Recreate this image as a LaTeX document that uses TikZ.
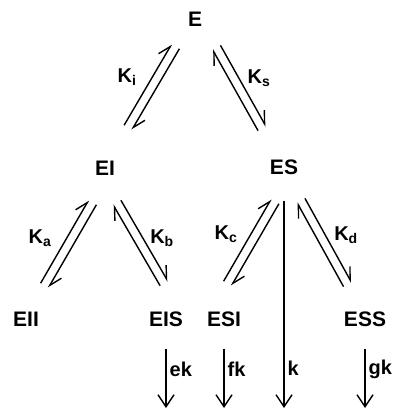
\documentclass[tikz,border=0pt]{standalone}
\usepackage{fontspec}
\setmainfont{Liberation Sans}
\usetikzlibrary{arrows.meta, calc}

% two parallel half-headed lines between two species
\newcommand{\gap}{4.5pt}
\newcommand{\eqpair}[4]{%
	\coordinate (p) at ([shift={#2}]#1.center);
	\coordinate (q) at ([shift={#4}]#3.center);
	\draw[harp] ($(p)!\gap!90:(q)$) -- ($(q)!\gap!-90:(p)$);
	\draw[harp] ($(q)!\gap!90:(p)$) -- ($(p)!\gap!-90:(q)$);
}

\begin{document}
\begin{tikzpicture}[
	x=1pt, y=-1pt,
	species/.style={inner sep=0pt, font=\fontsize{21}{25}\selectfont\bfseries},
	rate/.style={inner sep=0pt, font=\fontsize{20}{24}\selectfont\bfseries},
	harp/.style={-{Straight Barb[left, length=12pt, width=13pt]}, line width=1.4pt},
	down/.style={-{Straight Barb[length=12pt, width=16pt]}, line width=1.4pt, shorten <=22pt}
	]
	\useasboundingbox (0,0) rectangle (394,409);
	% species
	\node[species] (E) at (195,19) {E};
	\node[species] (EI) at (105,168) {EI};
	\node[species] (ES) at (284,167) {ES};
	\node[species] (EII) at (26,319) {EII};
	\node[species] (EIS) at (166,319) {EIS};
	\node[species] (ESI) at (224,319) {ESI};
	\node[species] (ESS) at (365,319) {ESS};
	% equilibria
	\eqpair{E}{(-19.5,27.5)}{EI}{(23,-40.5)}
	\eqpair{E}{(21.5,28.5)}{ES}{(-22,-38.5)}
	\eqpair{EI}{(-12.5,34.5)}{EII}{(18.5,-33.5)}
	\eqpair{EI}{(12,34.5)}{EIS}{(-2,-35.5)}
	\eqpair{ES}{(-9,34.5)}{ESI}{(3.5,-35.5)}
	\eqpair{ES}{(17,33.5)}{ESS}{(-17.5,-34.5)}
	\node[rate] (Ki) at (127,77) {K\textsubscript{i}};
	\node[rate] (Ks) at (259,78) {K\textsubscript{s}};
	\node[rate] (Ka) at (40,238) {K\textsubscript{a}};
	\node[rate] (Kb) at (162,238) {K\textsubscript{b}};
	\node[rate] (Kc) at (226,234) {K\textsubscript{c}};
	\node[rate] (Kd) at (346,235) {K\textsubscript{d}};
	% product formation
	\coordinate (eisend) at (EIS |- 0,408);
	\coordinate (esiend) at (ESI |- 0,408);
	\coordinate (esend) at (ES |- 0,408);
	\coordinate (essend) at (ESS |- 0,408);
	\draw[down] (EIS) -- (eisend) node[rate, pos=0.52, right=3pt] {ek};
	\draw[down] (ESI) -- (esiend) node[rate, pos=0.52, right=3pt] {fk};
	\draw[down, shorten <=26pt] (ES) -- (esend) node[rate, pos=0.83, right=3pt] {k};
	\draw[down] (ESS) -- (essend) node[rate, pos=0.52, right=3pt] {gk};
\end{tikzpicture}
\end{document}
